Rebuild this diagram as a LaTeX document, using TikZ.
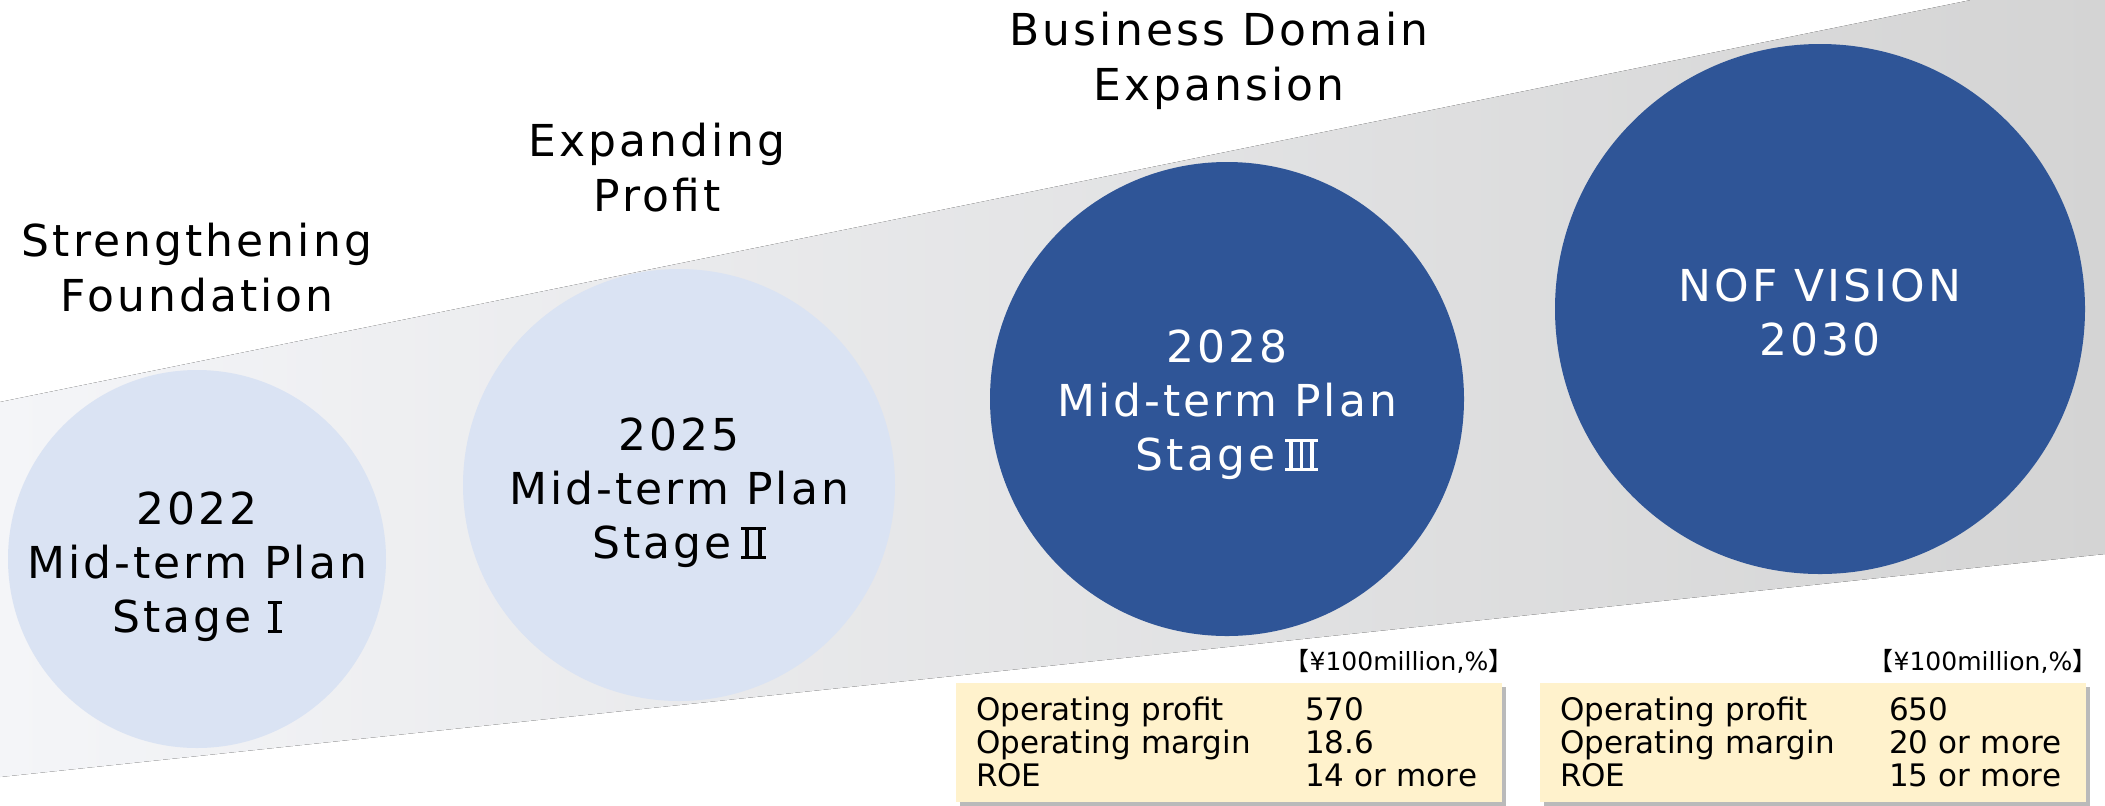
\documentclass[tikz,border=0pt]{standalone}
\usepackage{fontspec}
\setmainfont{DejaVu Sans}
\newfontfamily\stagefont{DejaVu Sans}[LetterSpace=7]
\newfontfamily\cjkfont{Noto Sans CJK JP}
\usetikzlibrary{positioning, shadows}

\definecolor{paleblue}{HTML}{DAE3F3}
\definecolor{navyblue}{HTML}{2F5597}
\definecolor{cream}{HTML}{FFF2CC}
\definecolor{bandleft}{HTML}{F4F5F8}
\definecolor{bandright}{HTML}{D4D4D4}

\newcommand{\figrow}[2]{\makebox[164.5pt][l]{#1}#2}
% roman stage numbers with bars
\newcommand{\stem}{\rule{.085em}{.72em}}
\newcommand{\stagemark}[2]{\kern.22em\rlap{\rule{#1}{.07em}}\rlap{\rule[.66em]{#1}{.07em}}\makebox[#1][s]{\kern.09em#2\kern.09em}}
\newcommand{\unitnote}{{\cjkfont 【}¥100million,\%{\cjkfont 】}\kern-.45em}

\begin{document}
\begin{tikzpicture}[x=0.5pt, y=-0.5pt,
  stage/.style={shape=circle, inner sep=0pt},
  pale/.style={stage, fill=paleblue},
  deep/.style={stage, fill=navyblue},
  stagetext/.style={align=center, inner sep=0pt, font={\stagefont\fontsize{22pt}{27pt}\selectfont}},
  heading/.style={align=center, inner sep=0pt, font={\stagefont\fontsize{22pt}{27.5pt}\selectfont}},
  figbox/.style={fill=cream, minimum width=273pt, minimum height=59.5pt, text width=253pt, inner xsep=10pt, inner ysep=0pt, align=left,
    font={\fontsize{15.5pt}{16.5pt}\selectfont}, drop shadow={shadow xshift=2pt, shadow yshift=-2pt, opacity=0.45, fill=black!60}},
  unitlabel/.style={inner sep=0pt, font={\fontsize{12.5pt}{14pt}\selectfont}}]
\useasboundingbox (0,0) rectangle (2105,805);

% rising band
\fill[left color=bandleft, right color=bandright] (0,402) -- (1971,0) -- (2105,0) -- (2105,554) -- (0,777) -- cycle;

% stages
\node[pale, minimum size=189pt] (st1) at (197,559) {};
\node[pale, minimum size=216pt] (st2) at (679,485) {};
\node[deep, minimum size=237pt] (st3) at (1227,399) {};
\node[deep, minimum size=265pt] (vision) at (1820,309) {};
\node[stagetext] (st1txt) at ([yshift=-4pt]st1.center) {2022\\Mid-term Plan\\Stage\kern.15em\stagemark{.32em}{\hfil\stem\hfil}};
\node[stagetext] (st2txt) at ([yshift=-4pt]st2.center) {2025\\Mid-term Plan\\Stage\stagemark{.55em}{\stem\hfil\stem}};
\node[stagetext, text=white] (st3txt) at ([yshift=-3pt]st3.center) {2028\\Mid-term Plan\\Stage\stagemark{.75em}{\stem\hfil\stem\hfil\stem}};
\node[stagetext, text=white] (visiontxt) at ([yshift=-1.5pt]vision.center) {NOF VISION\\2030};

% headings
\node[heading] (found) at (197,268) {Strengthening\\Foundation};
\node[heading] (profit) at (657,168) {Expanding\\Profit};
\node[heading] (domain) at (1219,61) {Business Domain\\Expansion};

% targets
\node[figbox] (fig28) at (1229,742) {\figrow{Operating profit}{570}\\\figrow{Operating margin}{18.6}\\\figrow{ROE}{14 or more}};
\node[figbox] (fig30) at (1813,742) {\figrow{Operating profit}{650}\\\figrow{Operating margin}{20 or more}\\\figrow{ROE}{15 or more}};
\node[unitlabel, above left=4pt and 0pt of fig28.north east] (unit28) {\unitnote};
\node[unitlabel, above left=4pt and 0pt of fig30.north east] (unit30) {\unitnote};
\end{tikzpicture}
\end{document}
